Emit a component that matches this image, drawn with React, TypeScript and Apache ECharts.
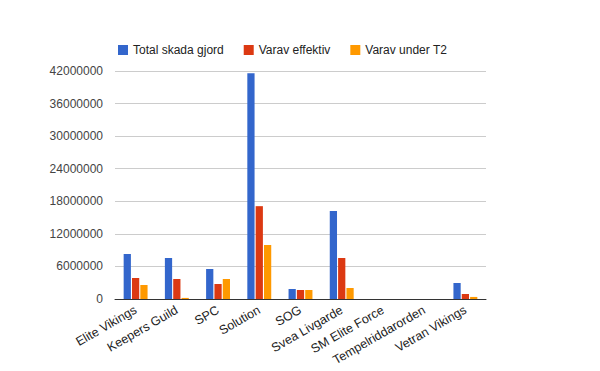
import React, { useEffect, useRef } from "react";
import * as echarts from "echarts";

const categories = [
  "Elite Vikings",
  "Keepers Guild",
  "SPC",
  "Solution",
  "SOG",
  "Svea Livgarde",
  "SM Elite Force",
  "Tempelriddarorden",
  "Vetran Vikings",
];
const totalSkada = [8300000, 7550000, 5530000, 41600000, 1840000, 16200000, 0, 0, 2950000];
const varavEffektiv = [3870000, 3680000, 2760000, 17100000, 1660000, 7550000, 0, 0, 920000];
const varavUnderT2 = [2580000, 200000, 3680000, 9950000, 1660000, 2030000, 0, 0, 380000];
const yTicks = { min: 0, max: 42000000, interval: 6000000 };

export default function App() {
  const ref = useRef<HTMLDivElement>(null);
  useEffect(() => {
    if (!ref.current) return;
    const chart = echarts.init(ref.current, null, { renderer: "svg" });
    const font = "Arial, 'Liberation Sans', sans-serif";
    chart.setOption({
      animation: false,
      textStyle: { fontFamily: font },
      color: ["#3366cc", "#dc3912", "#ff9900"],
      legend: {
        left: 113,
        top: 39,
        itemWidth: 10,
        itemHeight: 10,
        itemGap: 20,
        icon: "rect",
        textStyle: { fontSize: 12, color: "#222", fontFamily: font },
        data: ["Total skada gjord", "Varav effektiv", "Varav under T2"],
      },
      grid: { left: 115, right: 114, top: 71, bottom: 72, containLabel: false },
      xAxis: {
        type: "category",
        data: categories,
        axisLine: { lineStyle: { color: "#333", width: 1 } },
        axisTick: { show: false },
        axisLabel: {
          rotate: 30,
          interval: 0,
          fontSize: 12.5,
          color: "#222",
          fontFamily: font,
          margin: 10,
        },
      },
      yAxis: {
        type: "value",
        min: yTicks.min,
        max: yTicks.max,
        interval: yTicks.interval,
        axisLine: { show: false },
        axisTick: { show: false },
        splitLine: { lineStyle: { color: "#cccccc", width: 1 } },
        axisLabel: {
          fontSize: 12,
          color: "#444",
          fontFamily: font,
          margin: 12,
          formatter: (v: number) => String(v),
        },
      },
      series: [
        { name: "Total skada gjord", type: "bar", data: totalSkada, barGap: "15%", barCategoryGap: "42%" },
        { name: "Varav effektiv", type: "bar", data: varavEffektiv, barGap: "15%", barCategoryGap: "42%" },
        { name: "Varav under T2", type: "bar", data: varavUnderT2, barGap: "15%", barCategoryGap: "42%" },
      ],
    });
    return () => chart.dispose();
  }, []);
  return <div ref={ref} style={{ width: 600, height: 371, position: "absolute", left: 0, top: 0 }} />;
}
